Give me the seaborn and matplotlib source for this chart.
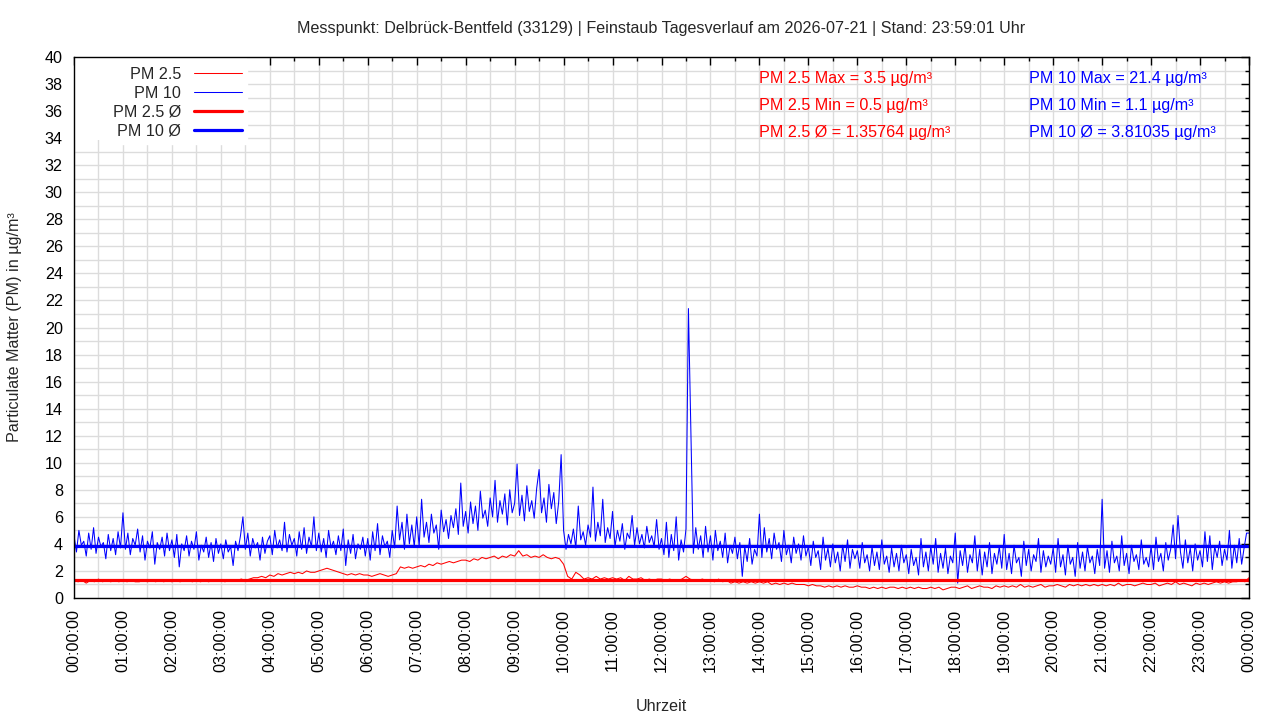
import numpy as np
import pandas as pd
import matplotlib
matplotlib.use("Agg")
import matplotlib.pyplot as plt
import seaborn as sns
from matplotlib.ticker import MultipleLocator, FixedLocator
from matplotlib.patches import Rectangle

# ---------------- data ----------------
# PM 10: 3-minute samples, 00:00 .. 24:00
pm10_step_minutes = 3
pm10 = [
    4.6, 3.4, 5.0, 3.9, 4.2, 3.1, 4.8, 3.6, 5.2, 3.3, 4.5, 3.8, 4.1, 2.9, 4.7, 3.5, 4.4, 3.2, 4.9, 3.7,  # 00h
    6.3, 3.6, 4.8, 3.2, 4.4, 3.9, 5.1, 3.4, 4.6, 2.8, 4.2, 3.7, 4.9, 2.5, 4.1, 3.6, 4.5, 3.1, 4.8, 3.5,  # 01h
    4.3, 3.0, 4.7, 2.3, 4.0, 3.5, 4.6, 3.1, 4.2, 3.6, 4.9, 2.8, 3.9, 3.4, 4.5, 3.0, 4.1, 2.7, 4.4, 3.3,  # 02h
    4.0, 2.9, 4.3, 3.4, 3.8, 2.4, 4.2, 3.5, 4.6, 6.0, 3.6, 4.8, 3.1, 4.4, 3.7, 4.1, 2.8, 4.5, 3.3, 4.2,  # 03h
    4.6, 3.2, 5.0, 3.7, 4.3, 3.5, 5.6, 3.4, 4.7, 3.9, 4.4, 3.1, 4.9, 3.6, 5.2, 3.3, 4.5, 3.8, 6.0, 3.5,  # 04h
    4.8, 3.4, 4.4, 3.0, 5.0, 3.7, 4.2, 3.2, 4.6, 3.5, 5.1, 2.4, 4.3, 3.3, 4.7, 2.9, 4.0, 3.6, 4.5, 3.1,  # 05h
    4.4, 2.8, 4.9, 3.5, 5.5, 3.2, 4.6, 3.8, 4.2, 3.0, 5.0, 3.7, 6.8, 4.3, 5.6, 3.6, 6.2, 4.0, 5.4, 3.8,  # 06h
    6.0, 3.8, 7.3, 4.5, 5.6, 4.1, 6.2, 4.8, 5.4, 3.6, 6.5, 4.9, 5.8, 4.4, 6.1, 5.2, 6.6, 4.7, 8.5, 5.3,  # 07h
    6.4, 4.8, 7.1, 5.5, 6.8, 5.0, 7.9, 5.9, 6.5, 5.3, 7.4, 6.0, 8.7, 5.6, 7.2, 6.2, 7.7, 5.4, 8.0, 6.3,  # 08h
    7.0, 9.9, 6.1, 7.6, 5.7, 8.3, 6.4, 7.2, 5.9, 8.1, 9.5, 6.3, 7.4, 5.6, 8.4, 6.6, 7.8, 5.5, 7.1, 10.6, # 09h
    5.0, 3.6, 4.7, 4.0, 5.1, 3.7, 6.8, 4.3, 4.9, 3.9, 5.4, 4.5, 8.2, 4.2, 5.6, 4.6, 7.3, 4.1, 5.2, 4.4,  # 10h
    6.4, 3.8, 5.0, 4.2, 5.5, 3.6, 4.8, 4.4, 6.1, 3.9, 5.2, 4.0, 4.7, 3.7, 5.3, 4.1, 4.6, 3.8, 5.8, 3.6,  # 11h
    4.4, 3.2, 5.6, 3.0, 4.7, 3.5, 6.0, 2.8, 4.3, 3.4, 5.1, 21.4, 12.4, 3.3, 5.2, 3.6, 4.6, 3.0, 5.3, 3.4, # 12h
    4.6, 2.8, 5.0, 3.5, 4.2, 3.0, 4.8, 2.6, 3.9, 3.3, 4.5, 2.9, 4.1, 1.6, 3.8, 2.7, 4.4, 2.5, 3.6, 3.1,  # 13h
    6.2, 3.0, 5.2, 3.4, 4.4, 2.9, 4.8, 3.6, 4.1, 2.7, 5.0, 3.2, 3.9, 2.6, 4.5, 3.3, 4.0, 2.8, 4.6, 3.1,  # 14h
    3.8, 2.4, 4.2, 3.0, 3.5, 2.1, 4.5, 2.8, 3.7, 2.3, 4.0, 2.6, 3.4, 2.0, 3.9, 2.7, 4.3, 2.2, 3.6, 2.9,  # 15h
    3.5, 2.2, 4.1, 2.6, 3.2, 2.0, 3.8, 2.4, 3.4, 2.1, 4.3, 2.5, 3.1, 1.9, 3.7, 2.3, 3.3, 2.0, 3.9, 2.6,  # 16h
    3.2, 1.8, 3.6, 2.4, 3.0, 1.7, 4.4, 2.3, 3.4, 2.0, 3.8, 2.5, 4.4, 1.9, 3.3, 2.2, 3.7, 1.8, 3.1, 2.6,  # 17h
    4.8, 1.1, 3.5, 2.4, 3.9, 1.9, 3.2, 2.6, 4.6, 2.0, 3.6, 1.7, 3.4, 2.3, 4.1, 1.8, 3.3, 2.5, 3.8, 2.2,  # 18h
    4.7, 2.1, 3.3, 1.8, 3.9, 2.6, 3.0, 1.6, 4.2, 2.4, 3.6, 2.0, 3.2, 2.7, 4.4, 1.9, 3.5, 2.3, 3.1, 2.5,  # 19h
    3.7, 1.9, 4.4, 2.3, 3.2, 1.7, 3.9, 2.5, 3.0, 1.6, 4.1, 2.2, 3.4, 2.0, 3.8, 2.6, 3.1, 1.8, 3.6, 2.4,  # 20h
    7.3, 2.2, 3.5, 1.9, 4.2, 2.6, 3.1, 2.0, 4.6, 2.4, 3.3, 1.8, 3.9, 2.7, 3.2, 2.1, 4.3, 2.5, 3.0, 2.3,  # 21h
    3.8, 2.1, 4.5, 2.7, 3.3, 2.0, 4.1, 2.8, 3.6, 5.4, 2.9, 6.1, 3.4, 2.2, 4.3, 2.6, 3.7, 2.0, 4.0, 2.8,  # 22h
    3.5, 2.3, 4.9, 2.7, 4.6, 2.1, 3.8, 3.0, 4.2, 2.4, 3.6, 2.8, 5.0, 2.2, 3.9, 2.6, 4.4, 2.5, 3.7, 4.8,  # 23h
    4.8,                                                                                                  # 24h
]

# PM 2.5: 5-minute samples, 00:00 .. 24:00
pm25_step_minutes = 5
pm25 = [
    1.3, 1.2, 1.3, 1.1, 1.3, 1.2, 1.4, 1.2, 1.3, 1.2, 1.3, 1.2,   # 00h
    1.3, 1.2, 1.3, 1.2, 1.2, 1.3, 1.2, 1.3, 1.2, 1.3, 1.2, 1.3,   # 01h
    1.2, 1.3, 1.2, 1.3, 1.3, 1.2, 1.3, 1.2, 1.3, 1.2, 1.3, 1.3,   # 02h
    1.3, 1.2, 1.3, 1.3, 1.3, 1.4, 1.3, 1.4, 1.5, 1.5, 1.6, 1.5,   # 03h
    1.7, 1.6, 1.8, 1.7, 1.8, 1.9, 1.8, 1.9, 1.8, 2.0, 1.9, 1.9,   # 04h
    2.0, 2.1, 2.2, 2.1, 2.0, 1.9, 1.8, 1.7, 1.8, 1.7, 1.8, 1.7,   # 05h
    1.7, 1.6, 1.7, 1.8, 1.7, 1.6, 1.7, 1.8, 2.3, 2.2, 2.3, 2.2,   # 06h
    2.3, 2.4, 2.3, 2.5, 2.4, 2.6, 2.5, 2.6, 2.7, 2.6, 2.7, 2.8,   # 07h
    2.8, 2.7, 2.9, 2.8, 3.0, 2.9, 3.0, 3.1, 2.9, 3.1, 3.0, 3.2,   # 08h
    3.1, 3.5, 3.1, 3.2, 3.0, 3.1, 3.0, 3.2, 3.0, 2.9, 3.0, 2.9,   # 09h
    2.5, 1.6, 1.4, 1.9, 1.7, 1.4, 1.5, 1.4, 1.6, 1.4, 1.5, 1.4,   # 10h
    1.5, 1.4, 1.5, 1.3, 1.6, 1.4, 1.4, 1.5, 1.3, 1.4, 1.3, 1.4,   # 11h
    1.4, 1.3, 1.4, 1.3, 1.3, 1.4, 1.6, 1.4, 1.3, 1.3, 1.4, 1.3,   # 12h
    1.3, 1.2, 1.4, 1.2, 1.3, 1.1, 1.2, 1.1, 1.2, 1.1, 1.2, 1.1,   # 13h
    1.2, 1.1, 1.2, 1.0, 1.1, 1.0, 1.1, 1.0, 1.1, 1.0, 1.0, 1.0,   # 14h
    0.9, 1.0, 0.9, 0.9, 0.8, 0.9, 0.8, 0.9, 0.8, 0.9, 0.8, 0.8,   # 15h
    0.9, 0.8, 0.8, 0.7, 0.8, 0.7, 0.8, 0.7, 0.8, 0.8, 0.7, 0.8,   # 16h
    0.7, 0.8, 0.7, 0.8, 0.7, 0.7, 0.8, 0.7, 0.8, 0.6, 0.7, 0.8,   # 17h
    0.8, 0.7, 0.8, 0.9, 0.7, 0.8, 0.9, 0.8, 0.8, 0.7, 0.9, 0.8,   # 18h
    0.9, 0.8, 0.9, 0.8, 1.0, 0.8, 0.9, 0.8, 0.9, 1.0, 0.8, 0.9,   # 19h
    0.9, 1.0, 0.9, 0.8, 1.0, 0.9, 1.0, 0.9, 1.0, 0.9, 1.0, 0.9,   # 20h
    1.0, 0.9, 1.0, 0.9, 1.1, 0.9, 1.0, 1.0, 0.9, 1.0, 1.1, 1.0,   # 21h
    1.0, 1.1, 0.9, 1.0, 1.1, 1.0, 1.2, 1.0, 1.1, 1.0, 0.9, 1.1,   # 22h
    1.0, 1.1, 1.0, 1.1, 1.2, 1.1, 1.2, 1.1, 1.2, 1.2, 1.3, 1.2,   # 23h
    1.5,                                                           # 24h
]

pm25_max, pm25_min, pm25_avg = 3.5, 0.5, 1.35764
pm10_max, pm10_min, pm10_avg = 21.4, 1.1, 3.81035

hour_ticks = list(range(0, 25))
hour_labels = [f"{h % 24:02d}:00:00" for h in hour_ticks]

title = "Messpunkt: Delbrück-Bentfeld (33129) | Feinstaub Tagesverlauf am 2026-07-21 | Stand: 23:59:01 Uhr"

# ---------------- figure ----------------
sns.set_theme(style="white")
plt.rcParams["font.family"] = ["Liberation Sans", "DejaVu Sans"]
FS = 11.6

df10 = pd.DataFrame({"t": np.arange(len(pm10)) * pm10_step_minutes / 60.0, "v": pm10})
df25 = pd.DataFrame({"t": np.arange(len(pm25)) * pm25_step_minutes / 60.0, "v": pm25})

fig = plt.figure(figsize=(12.8, 7.2), dpi=100)
ax = fig.add_axes([74 / 1280, 1 - 598 / 720, 1175 / 1280, 541 / 720])

RED = "#ff0000"
BLUE = "#0000ff"

sns.lineplot(data=df25, x="t", y="v", ax=ax, color=RED, lw=0.75, label="PM 2.5",
             estimator=None, zorder=3)
sns.lineplot(data=df10, x="t", y="v", ax=ax, color=BLUE, lw=0.75, label="PM 10",
             estimator=None, zorder=4)
ax.axhline(pm25_avg, color=RED, lw=2.3, label="PM 2.5 Ø", zorder=5)
ax.axhline(pm10_avg, color=BLUE, lw=2.3, label="PM 10 Ø", zorder=6)

ax.set_xlim(0, 24)
ax.set_ylim(0, 40)

ax.xaxis.set_major_locator(FixedLocator(hour_ticks))
ax.set_xticklabels(hour_labels, rotation=90)
ax.xaxis.set_minor_locator(MultipleLocator(0.5))
ax.yaxis.set_major_locator(MultipleLocator(2))
ax.yaxis.set_minor_locator(MultipleLocator(1))

ax.grid(True, which="both", color="#dcdcdc", lw=1.0, zorder=0)
ax.set_axisbelow(True)
for s in ax.spines.values():
    s.set_color("black")
    s.set_linewidth(1.0)
    s.set_zorder(9)

ax.tick_params(axis="both", which="major", direction="in", length=6, width=1,
               color="black", top=True, right=True, labelsize=FS, labelcolor="#000000")
ax.tick_params(axis="both", which="minor", direction="in", length=3, width=1,
               color="black", top=True, right=True)
ax.tick_params(axis="y", which="major", pad=8)
ax.tick_params(axis="x", which="major", pad=8)

ax.set_xlabel("Uhrzeit", fontsize=FS, labelpad=0)
ax.xaxis.set_label_coords(0.5, -(699 - 598) / 541)
ax.set_ylabel("Particulate Matter (PM) in µg/m³", fontsize=FS)
ax.yaxis.set_label_coords(-(74 - 22) / 1175, 0.5)
ax.set_title(title, fontsize=FS, pad=17.5)

# statistics labels
stat_rows = [38.42, 36.42, 34.42]
red_texts = [f"PM 2.5 Max = {pm25_max} µg/m³", f"PM 2.5 Min = {pm25_min} µg/m³",
             f"PM 2.5 Ø = {pm25_avg} µg/m³"]
blue_texts = [f"PM 10 Max = {pm10_max} µg/m³", f"PM 10 Min = {pm10_min} µg/m³",
              f"PM 10 Ø = {pm10_avg} µg/m³"]
for yv, tr, tb in zip(stat_rows, red_texts, blue_texts):
    ax.text(14.0, yv, tr, color=RED, fontsize=FS, va="center", ha="left", zorder=7)
    ax.text(19.5, yv, tb, color=BLUE, fontsize=FS, va="center", ha="left", zorder=7)

# white key background (as in the reference key area)
ax.add_patch(Rectangle((0, (598 - 140) / 541), (247 - 74) / 1175, 1 - (598 - 140) / 541,
                       transform=ax.transAxes, facecolor="white", edgecolor="none",
                       zorder=7.5))

leg = ax.legend(loc="upper right", bbox_to_anchor=((247 - 74) / 1175, (598 - 62) / 541),
                markerfirst=False, frameon=True, fontsize=FS,
                handlelength=3.0, handletextpad=0.8, labelspacing=0.25,
                borderaxespad=0.0, borderpad=0.3, fancybox=False)
leg.get_frame().set_facecolor("white")
leg.get_frame().set_edgecolor("white")
leg.get_frame().set_alpha(1.0)
leg.set_zorder(8)

fig.savefig("out.png", dpi=100)
